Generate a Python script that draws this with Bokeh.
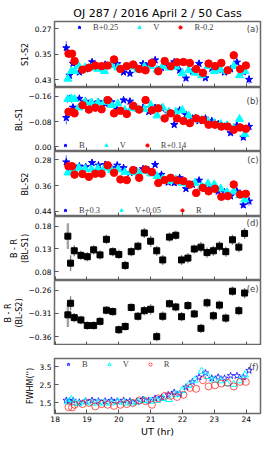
from bokeh.plotting import figure
from bokeh.models import Range1d, FixedTicker, Legend, LegendItem, Label, Title
from bokeh.layouts import column
from bokeh.embed import file_html
from bokeh.resources import INLINE

# ---------------- data ----------------
TITLE = "OJ 287 / 2016 April 2 / 50 Cass"
XTICKS = [18, 19, 20, 21, 22, 23, 24]

tB = [18.35, 18.45, 18.56, 18.76, 18.96, 19.16, 19.36, 19.57, 19.77, 19.95, 20.15,
      20.35, 20.56, 20.76, 20.94, 21.14, 21.34, 21.55, 21.74, 21.91, 22.11, 22.31,
      22.52, 22.72, 22.92, 23.12, 23.32, 23.51, 23.71, 23.91, 24.09]
tV = [18.40, 18.51, 18.61, 18.74, 18.94, 19.14, 19.34, 19.55, 19.77, 19.97, 20.19,
      20.39, 20.60, 20.80, 21.00, 21.20, 21.38, 21.58, 21.79, 21.99, 22.19, 22.39,
      22.60, 22.80, 23.00, 23.20, 23.40, 23.61, 23.79, 23.96]
tR = [18.42, 18.53, 18.61, 18.86, 19.06, 19.26, 19.46, 19.65, 19.85, 20.05, 20.25,
      20.45, 20.64, 20.84, 21.04, 21.24, 21.44, 21.63, 21.83, 22.03, 22.23, 22.43,
      22.64, 22.82, 23.02, 23.22, 23.42, 23.61, 23.81, 23.99]
tC = [18.40, 18.485, 18.60, 18.81, 19.01, 19.21, 19.41, 19.61, 19.81, 20.00, 20.20,
      20.39, 20.60, 20.80, 21.00, 21.19, 21.38, 21.59, 21.79, 21.97, 22.17, 22.37,
      22.58, 22.77, 22.97, 23.16, 23.36, 23.57, 23.77, 23.95]

# (a) S1-S2
a_B = [0.331, 0.417, 0.380, 0.407, 0.397, 0.375, 0.391, 0.383, 0.383, 0.381, 0.407,
       0.411, 0.391, 0.381, 0.383, 0.369, 0.393, 0.388, 0.375, 0.401, 0.426, 0.404,
       0.380, 0.425, 0.395, 0.399, 0.407, 0.397, 0.376, 0.406, 0.430]
a_V = [0.428, 0.404, 0.404, 0.388, 0.393, 0.393, 0.397, 0.404, 0.386, 0.393, 0.390,
       0.390, 0.399, 0.390, 0.388, 0.399, 0.388, 0.393, 0.390, 0.411, 0.401, 0.409,
       0.417, 0.388, 0.404, 0.399, 0.404, 0.388, 0.417, 0.404]
a_R = [0.349, 0.349, 0.372, 0.399, 0.393, 0.386, 0.388, 0.386, 0.367, 0.397, 0.388,
       0.383, 0.397, 0.401, 0.378, 0.404, 0.372, 0.388, 0.376, 0.375, 0.378, 0.397,
       0.409, 0.380, 0.388, 0.378, 0.401, 0.354, 0.397, 0.386]
# (b) BL-S1
b_B = [-0.092, -0.151, -0.125, -0.153, -0.144, -0.140, -0.142, -0.137, -0.142, -0.119,
       -0.148, -0.144, -0.122, -0.124, -0.111, -0.124, -0.122, -0.106, -0.070, -0.116,
       -0.101, -0.090, -0.082, -0.090, -0.082, -0.072, -0.064, -0.044, -0.068, -0.030,
       -0.064]
b_V = [-0.151, -0.153, -0.151, -0.124, -0.142, -0.140, -0.140, -0.142, -0.132, -0.137,
       -0.116, -0.122, -0.119, -0.119, -0.132, -0.099, -0.124, -0.111, -0.111, -0.116,
       -0.099, -0.090, -0.085, -0.080, -0.075, -0.072, -0.068, -0.059, -0.088, -0.040]
b_R = [-0.111, -0.111, -0.106, -0.132, -0.118, -0.124, -0.119, -0.148, -0.106, -0.114,
       -0.104, -0.130, -0.118, -0.148, -0.116, -0.122, -0.090, -0.106, -0.090, -0.082,
       -0.075, -0.090, -0.085, -0.070, -0.070, -0.064, -0.064, -0.054, -0.061, -0.057]
# (c) BL-S2
c_B = [0.287, 0.312, 0.305, 0.300, 0.302, 0.289, 0.297, 0.295, 0.305, 0.297, 0.305,
       0.320, 0.315, 0.308, 0.312, 0.295, 0.326, 0.350, 0.352, 0.336, 0.370, 0.357,
       0.344, 0.370, 0.367, 0.378, 0.381, 0.393, 0.378, 0.421, 0.409]
c_V = [0.320, 0.312, 0.318, 0.305, 0.308, 0.310, 0.307, 0.305, 0.312, 0.310, 0.318,
       0.318, 0.320, 0.315, 0.323, 0.331, 0.339, 0.346, 0.341, 0.352, 0.357, 0.352,
       0.362, 0.354, 0.357, 0.370, 0.381, 0.378, 0.391, 0.404]
c_R = [0.300, 0.300, 0.326, 0.324, 0.333, 0.323, 0.323, 0.297, 0.320, 0.341, 0.343,
       0.312, 0.336, 0.310, 0.318, 0.352, 0.343, 0.336, 0.344, 0.346, 0.357, 0.383,
       0.367, 0.378, 0.370, 0.395, 0.393, 0.357, 0.388, 0.386]
# (d) B - R (BL-S1), (e) B - R (BL-S2)
d_BR = [0.158, 0.099, 0.126, 0.116, 0.113, 0.128, 0.117, 0.151, 0.124, 0.118, 0.094,
        0.124, 0.136, 0.165, 0.147, 0.126, 0.106, 0.156, 0.160, 0.106, 0.110, 0.130,
        0.134, 0.122, 0.126, 0.136, 0.124, 0.150, 0.134, 0.164]
e_BR = [-0.313, -0.288, -0.319, -0.324, -0.336, -0.336, -0.327, -0.303, -0.306, -0.345,
        -0.338, -0.297, -0.316, -0.304, -0.301, -0.360, -0.316, -0.289, -0.296, -0.317,
        -0.293, -0.311, -0.342, -0.287, -0.315, -0.292, -0.320, -0.262, -0.304, -0.266]
# (f) FWHM
f_B = [1.64, 1.60, 1.64, 1.54, 1.60, 1.64, 1.60, 1.60, 1.64, 1.60, 1.64, 1.60, 1.56,
       1.69, 1.64, 1.75, 1.79, 1.95, 2.08, 2.02, 2.37, 2.66, 2.92, 3.15, 2.86, 2.92,
       2.86, 3.00, 3.00, 2.92, 3.29]
f_V = [1.56, 1.69, 1.50, 1.46, 1.56, 1.50, 1.50, 1.50, 1.50, 1.56, 1.50, 1.50, 1.56,
       1.64, 1.60, 1.64, 1.75, 1.69, 1.95, 2.18, 2.47, 2.76, 3.25, 2.96, 2.76, 2.72,
       2.57, 2.53, 2.72, 3.05]
f_R = [1.27, 1.25, 1.40, 1.44, 1.50, 1.31, 1.44, 1.40, 1.34, 1.40, 1.44, 1.50, 1.64,
       1.60, 1.40, 1.75, 1.89, 1.89, 1.83, 1.95, 2.33, 2.28, 2.76, 2.41, 2.47, 2.57,
       2.61, 2.41, 2.66, 2.66]

# error bars
eB = [0.021, 0.008, 0.007, 0.006, 0.006, 0.006, 0.006, 0.006, 0.006, 0.006, 0.006,
      0.006, 0.006, 0.006, 0.007, 0.007, 0.006, 0.006, 0.007, 0.007, 0.007, 0.006,
      0.006, 0.007, 0.007, 0.007, 0.007, 0.008, 0.008, 0.009, 0.014]
eD = [0.028, 0.017, 0.012, 0.010, 0.010, 0.010, 0.010, 0.010, 0.010, 0.010, 0.010,
      0.010, 0.010, 0.011, 0.012, 0.011, 0.011, 0.010, 0.010, 0.011, 0.011, 0.010,
      0.011, 0.011, 0.011, 0.011, 0.011, 0.011, 0.011, 0.012]
eE = [0.026, 0.015, 0.010, 0.009, 0.009, 0.009, 0.009, 0.009, 0.009, 0.009, 0.009,
      0.009, 0.009, 0.010, 0.011, 0.010, 0.010, 0.009, 0.009, 0.010, 0.010, 0.009,
      0.010, 0.010, 0.010, 0.010, 0.010, 0.010, 0.010, 0.011]

# ---------------- style ----------------
W = 266
BL, BR = 46, 6
BLUE, CYAN, RED = "#0000ff", "#00ffff", "#ff0000"
TICKFONT = "7.5px"
XMIN, XMAX = 17.98, 24.45
X_RANGE = Range1d(XMIN, XMAX)


def errbar(p, t, v, e, color, width=1.0, alpha=0.7):
    lo = [a - b for a, b in zip(v, e)]
    hi = [a + b for a, b in zip(v, e)]
    p.segment(x0=t, y0=lo, x1=t, y1=hi, line_color=color, line_width=width,
              line_alpha=alpha)


def panel(h, yr, yticks, ylabs, ylabel, top=0, bottom=0, xlabels=False):
    p = figure(width=W, height=h, x_range=X_RANGE, y_range=Range1d(*yr),
               output_backend="svg", toolbar_location=None, title=None,
               min_border_left=BL, min_border_right=BR, min_border_top=top,
               min_border_bottom=bottom)
    p.background_fill_color = "white"
    p.border_fill_color = "white"
    p.grid.grid_line_color = None
    p.outline_line_color = "#6a6a6a"
    p.outline_line_width = 1.5
    xa, ya = p.xaxis[0], p.yaxis[0]
    for ax in (xa, ya):
        ax.axis_line_color = None
        ax.major_tick_in = 4
        ax.major_tick_out = 0
        ax.major_tick_line_color = "#555555"
        ax.minor_tick_line_color = None
        ax.major_label_text_font = "DejaVu Sans"
        ax.major_label_text_font_size = TICKFONT
        ax.major_label_text_color = "#000000"
        ax.axis_label_text_font = "DejaVu Sans"
        ax.axis_label_text_font_style = "normal"
        ax.axis_label_text_color = "#000000"
    xa.ticker = FixedTicker(ticks=XTICKS)
    if xlabels:
        xa.major_label_standoff = 2
        xa.axis_label = "UT (hr)"
        xa.axis_label_text_font_size = "9.5px"
        xa.axis_label_standoff = 1
    else:
        xa.major_label_overrides = {t: "" for t in XTICKS}
        xa.major_label_standoff = 0
    ya.ticker = FixedTicker(ticks=yticks)
    ya.major_label_overrides = {t: s for t, s in zip(yticks, ylabs)}
    ya.major_label_standoff = 3
    ya.axis_label = ylabel
    ya.axis_label_text_font_size = "8px"
    ya.axis_label_standoff = 2
    return p


def add_legend(p, items, loc):
    leg = Legend(items=[LegendItem(label=l, renderers=[r]) for l, r in items],
                 orientation="horizontal", location=loc, glyph_width=20,
                 glyph_height=8, label_height=8, label_width=0, label_standoff=4,
                 spacing=11, padding=0, margin=0, border_line_alpha=0,
                 background_fill_alpha=0, label_text_font="Liberation Serif",
                 label_text_font_size="8.5px")
    p.add_layout(leg)


def tag(p, text, fh, dy):
    p.add_layout(Label(x=XMAX - 0.06, y=fh - dy, x_units="data", y_units="screen",
                       text=text, text_align="right", text_baseline="middle",
                       text_font="DejaVu Sans", text_font_size="8.5px"))


def bvr(p, tb, vb, tv, vv, tr, vr):
    errbar(p, tb, vb, eB, BLUE, 1.0, 0.6)
    rb = p.scatter(tb, vb, marker="star", size=7.5, fill_color=BLUE, line_color=BLUE)
    rv = p.scatter(tv, vv, marker="triangle", size=8, fill_color=CYAN, line_color=CYAN)
    rr = p.scatter(tr, vr, marker="circle", size=7.5, fill_color=RED, line_color=RED)
    return rb, rv, rr


def colour_panel(p, v, e):
    # first point carries a larger (light grey) error bar
    errbar(p, tC[:1], v[:1], e[:1], "#9a9a9a", 2.4, 0.9)
    errbar(p, tC[1:], v[1:], e[1:], "#555555", 1.3, 0.75)
    p.scatter(tC, v, marker="square", size=6, fill_color="black", line_color="black")


# (a)
pa = panel(87, (0.455, 0.248), [0.27, 0.35, 0.43], ["0.27", "0.35", "0.43"],
           "S1-S2", top=21)
pa.add_layout(Title(text=TITLE, align="center", text_font="DejaVu Sans",
                    text_font_size="11px", text_font_style="normal",
                    text_color="#000000", standoff=3), "above")
rb, rv, rr = bvr(pa, tB, a_B, tV, a_V, tR, a_R)
add_legend(pa, [("B+0.25", rb), ("V", rv), ("R-0.2", rr)], (15, 55))
tag(pa, "(a)", 66, 7)

# (b)
pb = panel(64, (0.015, -0.188), [-0.16, -0.08, 0.0], ["\u22120.16", "\u22120.08", "0.00"],
           "BL-S1")
rb, rv, rr = bvr(pb, tB, b_B, tV, b_V, tR, b_R)
add_legend(pb, [("B", rb), ("V", rv), ("R+0.14", rr)], (1, 1))
tag(pb, "(b)", 64, 13)

# (c)
pc = panel(65, (0.4565, 0.254), [0.28, 0.36, 0.44], ["0.28", "0.36", "0.44"], "BL-S2")
rb, rv, rr = bvr(pc, tB, c_B, tV, c_V, tR, c_R)
add_legend(pc, [("B+0.3", rb), ("V+0.05", rv), ("R", rr)], (1, 1))
tag(pc, "(c)", 65, 8)

# (d)
pd_ = panel(64, (0.061, 0.201), [0.08, 0.13, 0.18], ["0.08", "0.13", "0.18"],
            "B - R\n(BL-S1)")
colour_panel(pd_, d_BR, eD)
tag(pd_, "(d)", 64, 6)

# (e)
pe = panel(65, (-0.379, -0.239), [-0.36, -0.31, -0.26],
           ["\u22120.36", "\u22120.31", "\u22120.26"], "B - R\n(BL-S2)")
colour_panel(pe, e_BR, eE)
tag(pe, "(e)", 65, 8)

# (f)
pf = panel(94, (0.92, 3.95), [1.5, 2.5, 3.5], ["1.5", "2.5", "3.5"], "FWHM('')",
           top=13, bottom=24, xlabels=True)
fb = pf.scatter(tB, f_B, marker="star", size=7, fill_color=None, line_color=BLUE,
                line_alpha=0.75)
fv = pf.scatter(tV, f_V, marker="triangle", size=7, fill_color=None, line_color=CYAN)
fr = pf.scatter(tR, f_R, marker="circle", size=7, fill_color=None, line_color=RED,
                line_alpha=0.65)
add_legend(pf, [("B", fb), ("V", fv), ("R", fr)], (4, 44))
tag(pf, "(f)", 52, 5)

layout = column(pa, pb, pc, pd_, pe, pf)
open("out.html", "w").write(file_html(layout, INLINE))
